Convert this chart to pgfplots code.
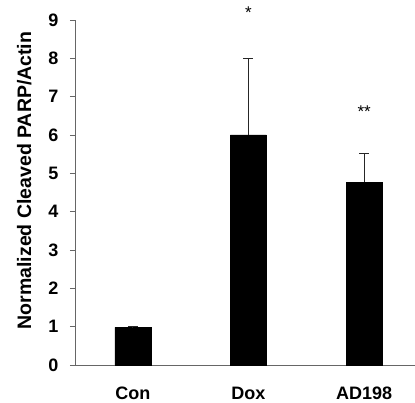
\documentclass[border=0pt]{standalone}
\usepackage{pgfplots}
\pgfplotsset{compat=1.18}
\usepackage{fontspec}
\setmainfont{Liberation Sans}
\begin{document}
\begin{tikzpicture}
\begin{axis}[
    scale only axis,
    width=340pt, height=345pt,
    xmin=-0.5, xmax=2.44,
    ymin=0, ymax=9,
    ytick={0,1,...,9},
    xtick={0,1,2},
    xticklabels={Con,Dox,AD198},
    xtick style={draw=none},
    ytick style={gray!80!black, line width=0.8pt},
    tick align=outside,
    major tick length=5pt,
    axis x line*=bottom,
    axis y line*=left,
    axis line style={gray!80!black, line width=0.9pt, -},
    tick label style={font=\fontsize{18}{18}\selectfont\bfseries},
    /pgf/number format/assume math mode=true,
    xticklabel style={anchor=base, inner sep=0.5pt, yshift=-30pt},
    yticklabel style={xshift=-8pt},
    ylabel={\textbf{Normalized Cleaved PARP/Actin}},
    ylabel style={font=\fontsize{19.5}{19.5}\selectfont, yshift=10pt, xshift=12pt},
    clip=false,
]
\addplot[ybar, bar width=36pt, fill=black, draw=black,
    error bars/.cd, y dir=plus, y explicit,
    error bar style={gray!30!black, line width=0.8pt},
    error mark options={rotate=90, mark size=5pt, line width=0.8pt, gray!30!black}]
    coordinates {
    (0,0.98) +- (0,0.02)
    (1,6.0) +- (0,2.0)
    (2,4.77) +- (0,0.76)
    };
\node[font=\fontsize{17}{17}\selectfont] at (axis cs:1,9.2) {*};
\node[font=\fontsize{17}{17}\selectfont] at (axis cs:2,6.62) {**};
\end{axis}
\pgfresetboundingbox
\path[use as bounding box] ([shift={(-75pt,-38pt)}]current axis.south west) rectangle ([shift={(0pt,20pt)}]current axis.north east);
\end{tikzpicture}
\end{document}
